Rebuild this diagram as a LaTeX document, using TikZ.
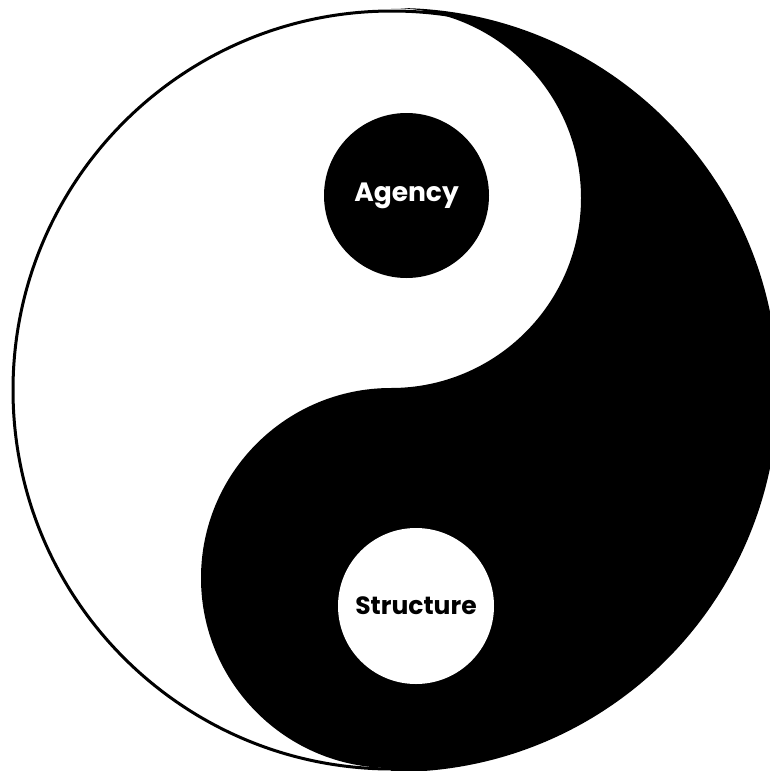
\documentclass[tikz,border=0pt]{standalone}
\usepackage{fontspec}
\setmainfont{Poppins}
\begin{document}
\begin{tikzpicture}[x=1pt,y=-1pt,
  dotlabel/.style={circle, inner sep=0pt, font=\bfseries}]
\useasboundingbox (0,0) rectangle (770,771);
% outer outline
\draw[line width=3pt, fill=white] (392,390) circle[radius=379];
% black half
\begin{scope}
  \clip (396,390) circle[radius=382];
  \fill[black] (391,8) arc[start angle=-90, end angle=90, radius=190]
               arc[start angle=-90, end angle=-270, radius=190]
               -- (391,800) -- (800,800) -- (800,-20) -- (391,-20) -- cycle;
\end{scope}
% dots
\node[dotlabel, fill=black, text=white, minimum size=165pt] (agency) at (406.5,195.5)
  {\fontsize{26.5}{30}\selectfont Agency};
\node[dotlabel, fill=white, text=black, minimum size=156pt] (structure) at (416,606)
  {\fontsize{25}{30}\selectfont\raisebox{-4pt}{Structure}};
\end{tikzpicture}
\end{document}
